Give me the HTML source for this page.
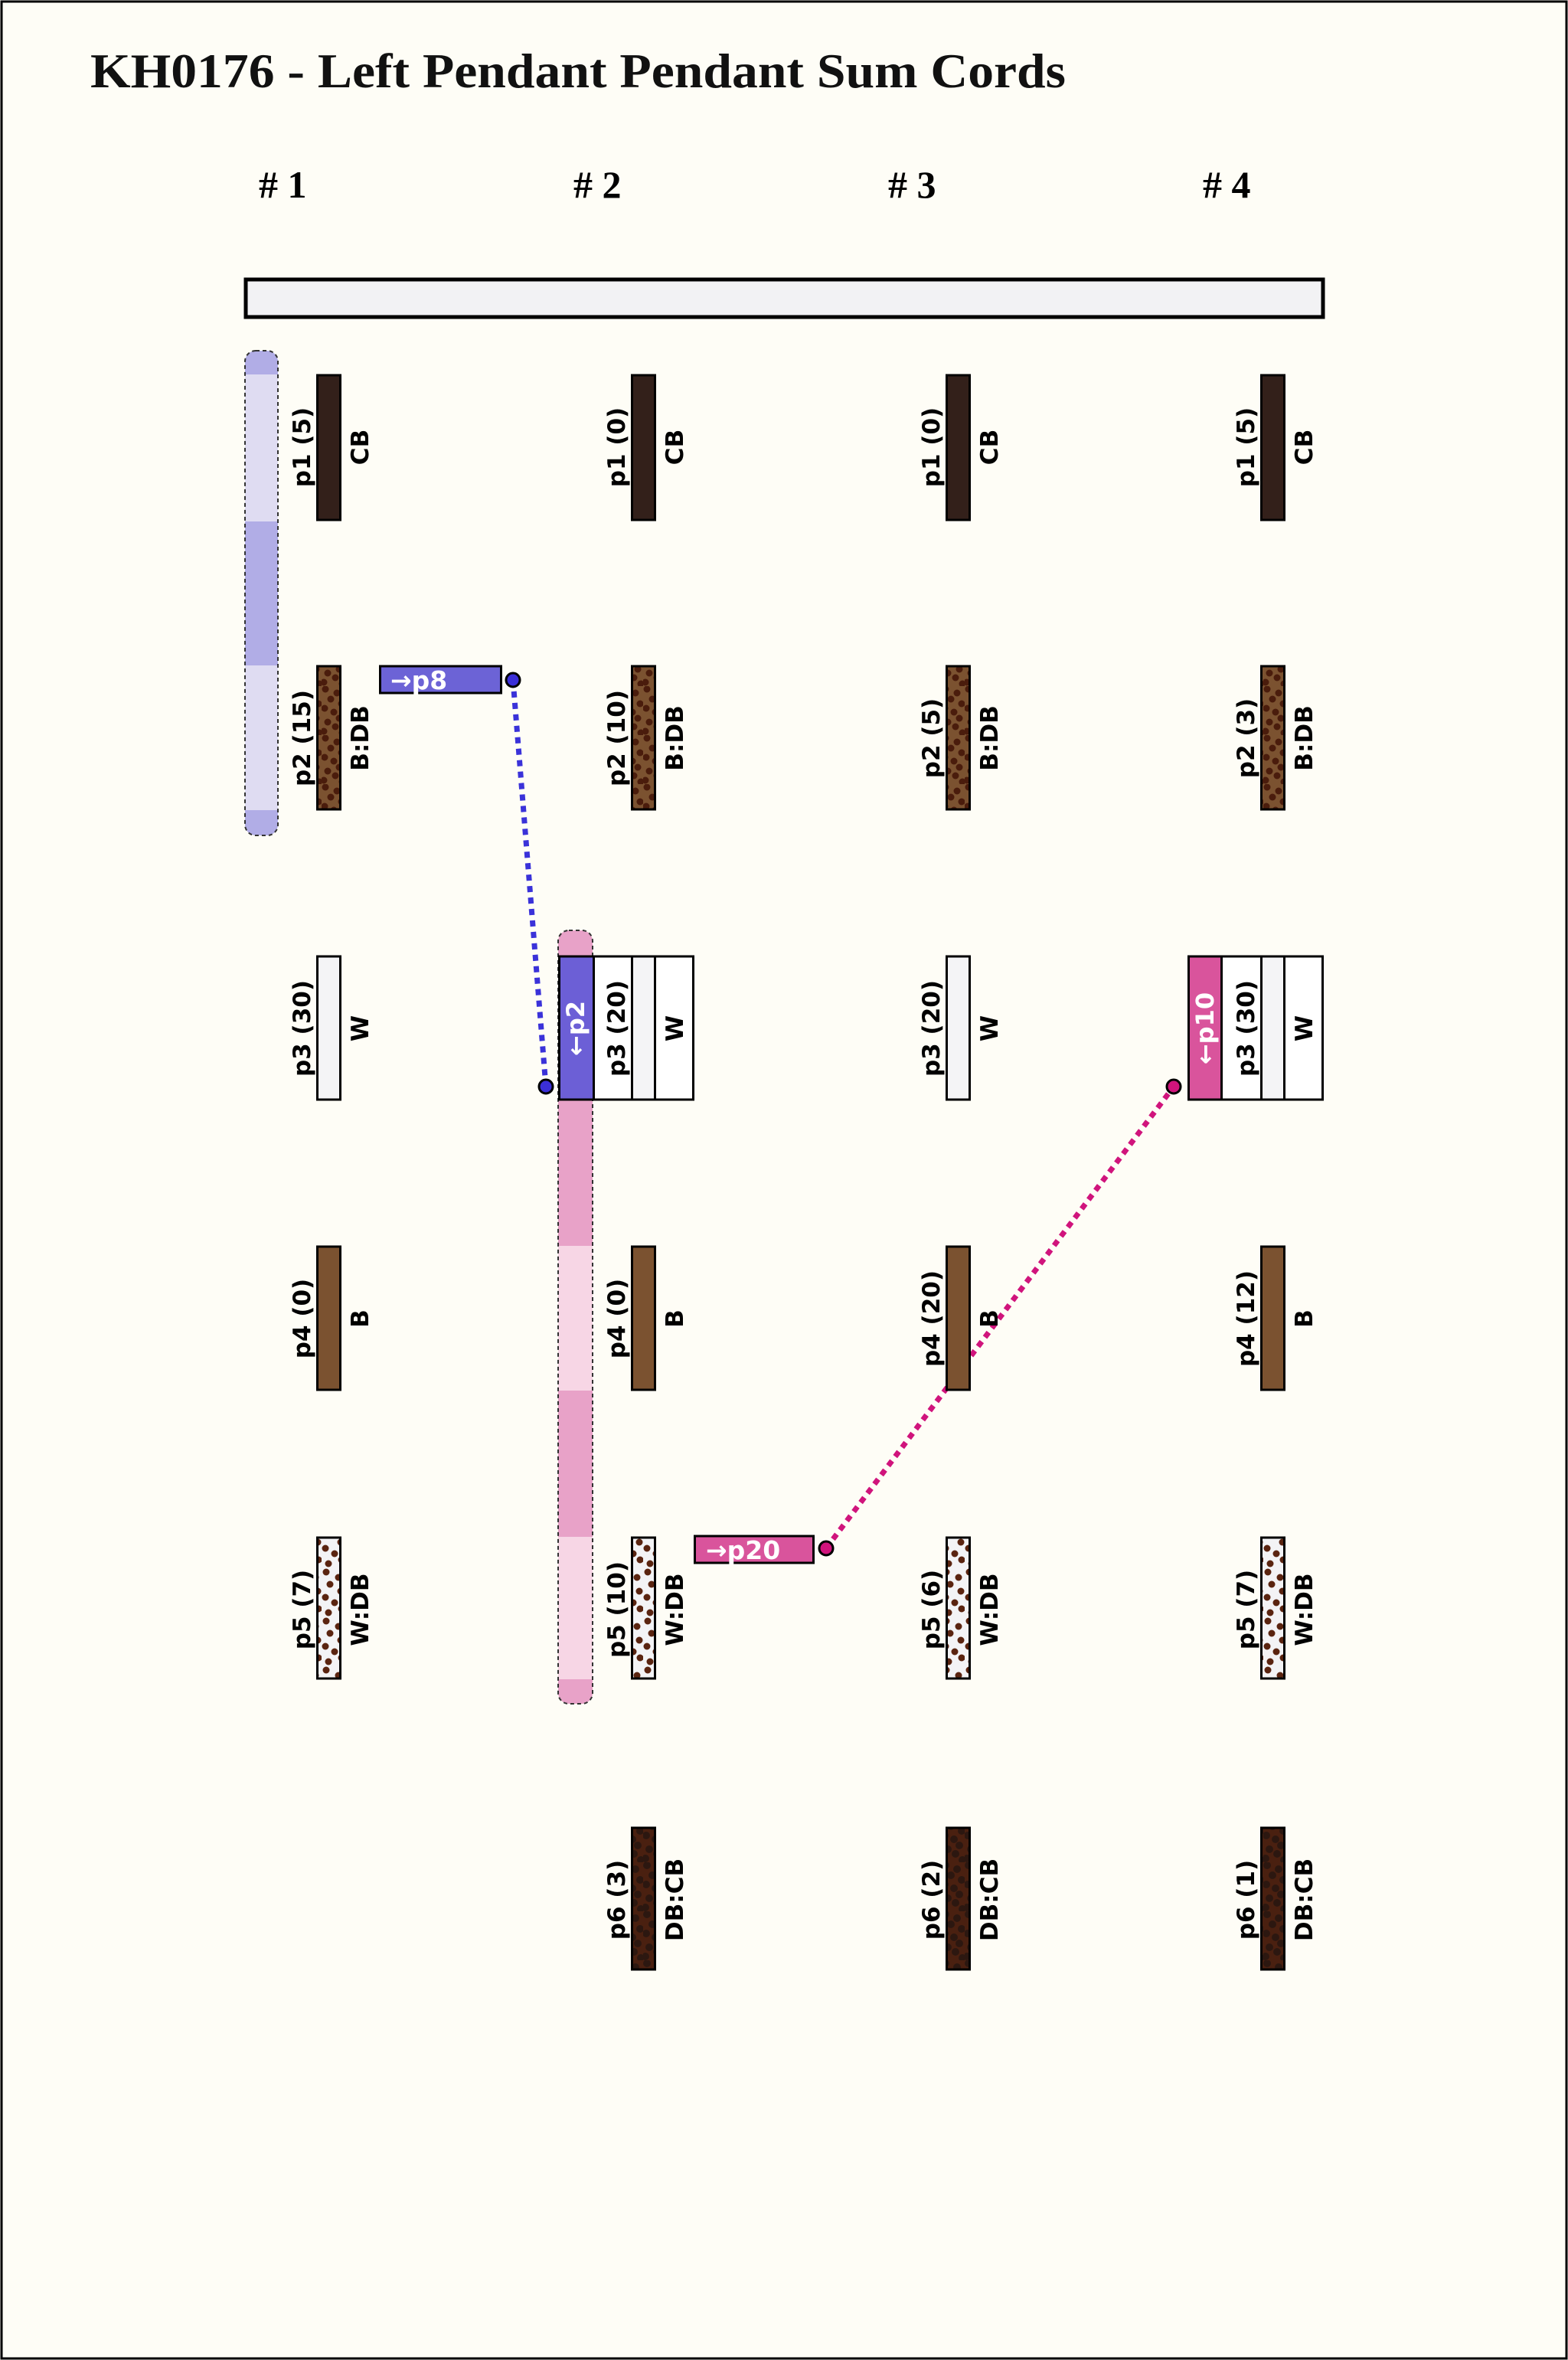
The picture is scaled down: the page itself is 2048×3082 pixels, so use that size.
<!DOCTYPE html>
<html><head><meta charset="utf-8"><style>
html,body{margin:0;padding:0;background:#fefdf6;}
svg{display:block;}
.pl{font-family:"DejaVu Sans","Liberation Sans",sans-serif;font-weight:bold;font-size:31px;fill:#000;text-anchor:middle;}
.wl{font-family:"DejaVu Sans","Liberation Sans",sans-serif;font-weight:bold;font-size:32px;fill:#fff;text-anchor:middle;}
</style></head><body>
<svg width="2048" height="3082" viewBox="0 0 2048 3082" xmlns="http://www.w3.org/2000/svg">
<defs>
<pattern id="bdb" patternUnits="userSpaceOnUse" width="30" height="64">
<rect width="30" height="64" fill="#7b5230"/>
<g fill="#4a1c0c"><circle cx="5" cy="4" r="4.5"/><circle cx="20" cy="9" r="4.5"/><circle cx="12" cy="17" r="4.5"/><circle cx="26" cy="23" r="4.5"/><circle cx="4" cy="29" r="4.5"/><circle cx="16" cy="34" r="4.5"/><circle cx="23" cy="42" r="4.5"/><circle cx="8" cy="47" r="4.5"/><circle cx="18" cy="53" r="4.5"/><circle cx="3" cy="59" r="4.5"/><circle cx="27" cy="61" r="4.5"/></g>
</pattern>
<pattern id="wdb" patternUnits="userSpaceOnUse" width="30" height="64">
<rect width="30" height="64" fill="#f3f3f5"/>
<g fill="#5a2410"><circle cx="6" cy="5" r="4.5"/><circle cx="22" cy="12" r="4.5"/><circle cx="11" cy="21" r="4.5"/><circle cx="25" cy="30" r="4.5"/><circle cx="5" cy="38" r="4.5"/><circle cx="17" cy="45" r="4.5"/><circle cx="26" cy="53" r="4.5"/><circle cx="9" cy="58" r="4.5"/></g>
</pattern>
<pattern id="dbcb" patternUnits="userSpaceOnUse" width="30" height="64">
<rect width="30" height="64" fill="#4a2010"/>
<g fill="#2c1710"><circle cx="5" cy="4" r="5"/><circle cx="20" cy="9" r="5"/><circle cx="12" cy="17" r="5"/><circle cx="26" cy="23" r="5"/><circle cx="4" cy="29" r="5"/><circle cx="16" cy="34" r="5"/><circle cx="23" cy="42" r="5"/><circle cx="8" cy="47" r="5"/><circle cx="18" cy="53" r="5"/><circle cx="3" cy="59" r="5"/><circle cx="27" cy="61" r="5"/></g>
</pattern>
<clipPath id="c1"><rect x="320" y="458" width="43" height="633" rx="14"/></clipPath>
<clipPath id="c2"><rect x="729" y="1215" width="45" height="1010" rx="14"/></clipPath>
</defs>
<rect x="0" y="0" width="2048" height="3082" fill="#fefdf6"/>
<rect x="2" y="2" width="2044" height="3078" fill="none" stroke="#000" stroke-width="3"/>

<text x="118" y="114" font-family="Liberation Serif, serif" font-size="64" font-weight="bold" textLength="1274" lengthAdjust="spacingAndGlyphs" fill="#111">KH0176 - Left Pendant Pendant Sum Cords</text>
<g font-family="Liberation Serif, serif" font-size="50" font-weight="bold">
<text x="338" y="258">#  1</text><text x="749" y="258">#  2</text><text x="1160" y="258">#  3</text><text x="1571" y="258">#  4</text>
</g>

<rect x="321" y="365" width="1407" height="49" fill="#f2f2f4" stroke="#000" stroke-width="5"/>

<g clip-path="url(#c1)">
<rect x="320" y="458" width="43" height="633" fill="#b1ade6"/>
<rect x="320" y="489" width="43" height="192" fill="#dfdcf2"/>
<rect x="320" y="869" width="43" height="189" fill="#dfdcf2"/>
</g>
<rect x="320" y="458" width="43" height="633" rx="14" fill="none" stroke="#333" stroke-width="2" stroke-dasharray="5 4"/>
<g clip-path="url(#c2)">
<rect x="729" y="1215" width="45" height="1010" fill="#e8a2c8"/>
<rect x="729" y="1627" width="45" height="189" fill="#f7d6e5"/>
<rect x="729" y="2007" width="45" height="186" fill="#f7d6e5"/>
</g>
<rect x="729" y="1215" width="45" height="1010" rx="14" fill="none" stroke="#333" stroke-width="2" stroke-dasharray="5 4"/>

<line x1="670" y1="888" x2="713" y2="1419" stroke="#3a32d9" stroke-width="7" stroke-dasharray="8 7"/>
<line x1="1079" y1="2022" x2="1533" y2="1419" stroke="#d0147c" stroke-width="7" stroke-dasharray="8 7"/>

<!-- col1 -->
<rect x="414.5" y="490" width="30" height="189" fill="#33201a" stroke="#000" stroke-width="3"/>
<text class="pl" transform="translate(405,584) rotate(-90)">p1 (5)</text>
<text class="pl" transform="translate(481,584) rotate(-90)">CB</text>
<rect x="414.5" y="870" width="30" height="187" fill="url(#bdb)" stroke="#000" stroke-width="3"/>
<text class="pl" transform="translate(405,964) rotate(-90)">p2 (15)</text>
<text class="pl" transform="translate(481,964) rotate(-90)">B:DB</text>
<rect x="414.5" y="1249" width="30" height="187" fill="#f4f4f6" stroke="#000" stroke-width="3"/>
<text class="pl" transform="translate(405,1343) rotate(-90)">p3 (30)</text>
<text class="pl" transform="translate(481,1343) rotate(-90)">W</text>
<rect x="414.5" y="1628" width="30" height="187" fill="#7b5230" stroke="#000" stroke-width="3"/>
<text class="pl" transform="translate(405,1722) rotate(-90)">p4 (0)</text>
<text class="pl" transform="translate(481,1722) rotate(-90)">B</text>
<rect x="414.5" y="2008" width="30" height="184" fill="url(#wdb)" stroke="#000" stroke-width="3"/>
<text class="pl" transform="translate(405,2102) rotate(-90)">p5 (7)</text>
<text class="pl" transform="translate(481,2102) rotate(-90)">W:DB</text>

<!-- col2 -->
<rect x="825.5" y="490" width="30" height="189" fill="#33201a" stroke="#000" stroke-width="3"/>
<text class="pl" transform="translate(816,584) rotate(-90)">p1 (0)</text>
<text class="pl" transform="translate(892,584) rotate(-90)">CB</text>
<rect x="825.5" y="870" width="30" height="187" fill="url(#bdb)" stroke="#000" stroke-width="3"/>
<text class="pl" transform="translate(816,964) rotate(-90)">p2 (10)</text>
<text class="pl" transform="translate(892,964) rotate(-90)">B:DB</text>
<rect x="730.5" y="1249" width="45" height="187" fill="#6c5fd6" stroke="#000" stroke-width="3"/>
<rect x="775.5" y="1249" width="50" height="187" fill="#fff" stroke="#000" stroke-width="3"/>
<rect x="825.5" y="1249" width="30" height="187" fill="#f4f4f6" stroke="#000" stroke-width="3"/>
<rect x="855.5" y="1249" width="50" height="187" fill="#fff" stroke="#000" stroke-width="3"/>
<text class="wl" transform="translate(763,1343) rotate(-90)">←p2</text>
<text class="pl" transform="translate(816,1343) rotate(-90)">p3 (20)</text>
<text class="pl" transform="translate(892,1343) rotate(-90)">W</text>
<rect x="825.5" y="1628" width="30" height="187" fill="#7b5230" stroke="#000" stroke-width="3"/>
<text class="pl" transform="translate(816,1722) rotate(-90)">p4 (0)</text>
<text class="pl" transform="translate(892,1722) rotate(-90)">B</text>
<rect x="825.5" y="2008" width="30" height="184" fill="url(#wdb)" stroke="#000" stroke-width="3"/>
<text class="pl" transform="translate(816,2102) rotate(-90)">p5 (10)</text>
<text class="pl" transform="translate(892,2102) rotate(-90)">W:DB</text>
<rect x="825.5" y="2387" width="30" height="185" fill="url(#dbcb)" stroke="#000" stroke-width="3"/>
<text class="pl" transform="translate(816,2481) rotate(-90)">p6 (3)</text>
<text class="pl" transform="translate(892,2481) rotate(-90)">DB:CB</text>

<!-- col3 -->
<rect x="1236.5" y="490" width="30" height="189" fill="#33201a" stroke="#000" stroke-width="3"/>
<text class="pl" transform="translate(1227,584) rotate(-90)">p1 (0)</text>
<text class="pl" transform="translate(1303,584) rotate(-90)">CB</text>
<rect x="1236.5" y="870" width="30" height="187" fill="url(#bdb)" stroke="#000" stroke-width="3"/>
<text class="pl" transform="translate(1227,964) rotate(-90)">p2 (5)</text>
<text class="pl" transform="translate(1303,964) rotate(-90)">B:DB</text>
<rect x="1236.5" y="1249" width="30" height="187" fill="#f4f4f6" stroke="#000" stroke-width="3"/>
<text class="pl" transform="translate(1227,1343) rotate(-90)">p3 (20)</text>
<text class="pl" transform="translate(1303,1343) rotate(-90)">W</text>
<rect x="1236.5" y="1628" width="30" height="187" fill="#7b5230" stroke="#000" stroke-width="3"/>
<text class="pl" transform="translate(1227,1722) rotate(-90)">p4 (20)</text>
<text class="pl" transform="translate(1303,1722) rotate(-90)">B</text>
<rect x="1236.5" y="2008" width="30" height="184" fill="url(#wdb)" stroke="#000" stroke-width="3"/>
<text class="pl" transform="translate(1227,2102) rotate(-90)">p5 (6)</text>
<text class="pl" transform="translate(1303,2102) rotate(-90)">W:DB</text>
<rect x="1236.5" y="2387" width="30" height="185" fill="url(#dbcb)" stroke="#000" stroke-width="3"/>
<text class="pl" transform="translate(1227,2481) rotate(-90)">p6 (2)</text>
<text class="pl" transform="translate(1303,2481) rotate(-90)">DB:CB</text>

<!-- col4 -->
<rect x="1647.5" y="490" width="30" height="189" fill="#33201a" stroke="#000" stroke-width="3"/>
<text class="pl" transform="translate(1638,584) rotate(-90)">p1 (5)</text>
<text class="pl" transform="translate(1714,584) rotate(-90)">CB</text>
<rect x="1647.5" y="870" width="30" height="187" fill="url(#bdb)" stroke="#000" stroke-width="3"/>
<text class="pl" transform="translate(1638,964) rotate(-90)">p2 (3)</text>
<text class="pl" transform="translate(1714,964) rotate(-90)">B:DB</text>
<rect x="1552.5" y="1249" width="43" height="187" fill="#d9549c" stroke="#000" stroke-width="3"/>
<rect x="1595.5" y="1249" width="52" height="187" fill="#fff" stroke="#000" stroke-width="3"/>
<rect x="1647.5" y="1249" width="30" height="187" fill="#f4f4f6" stroke="#000" stroke-width="3"/>
<rect x="1677.5" y="1249" width="50" height="187" fill="#fff" stroke="#000" stroke-width="3"/>
<text class="wl" transform="translate(1585,1343) rotate(-90)">←p10</text>
<text class="pl" transform="translate(1638,1343) rotate(-90)">p3 (30)</text>
<text class="pl" transform="translate(1714,1343) rotate(-90)">W</text>
<rect x="1647.5" y="1628" width="30" height="187" fill="#7b5230" stroke="#000" stroke-width="3"/>
<text class="pl" transform="translate(1638,1722) rotate(-90)">p4 (12)</text>
<text class="pl" transform="translate(1714,1722) rotate(-90)">B</text>
<rect x="1647.5" y="2008" width="30" height="184" fill="url(#wdb)" stroke="#000" stroke-width="3"/>
<text class="pl" transform="translate(1638,2102) rotate(-90)">p5 (7)</text>
<text class="pl" transform="translate(1714,2102) rotate(-90)">W:DB</text>
<rect x="1647.5" y="2387" width="30" height="185" fill="url(#dbcb)" stroke="#000" stroke-width="3"/>
<text class="pl" transform="translate(1638,2481) rotate(-90)">p6 (1)</text>
<text class="pl" transform="translate(1714,2481) rotate(-90)">DB:CB</text>

<rect x="496.5" y="870" width="158" height="35" fill="#6c63d6" stroke="#000" stroke-width="3"/>
<text x="510" y="900" font-family="DejaVu Sans, sans-serif" font-weight="bold" font-size="33" fill="#fff">→p8</text>
<circle cx="670" cy="888" r="9" fill="#3b2fd8" stroke="#000" stroke-width="3"/>
<circle cx="713" cy="1419" r="9" fill="#3b2fd8" stroke="#000" stroke-width="3"/>
<rect x="907.5" y="2006" width="155" height="35" fill="#d9549c" stroke="#000" stroke-width="3"/>
<text x="922" y="2036" font-family="DejaVu Sans, sans-serif" font-weight="bold" font-size="33" fill="#fff">→p20</text>
<circle cx="1079" cy="2022" r="9" fill="#d0147c" stroke="#000" stroke-width="3"/>
<circle cx="1533" cy="1419" r="9" fill="#d0147c" stroke="#000" stroke-width="3"/>
</svg>
</body></html>
